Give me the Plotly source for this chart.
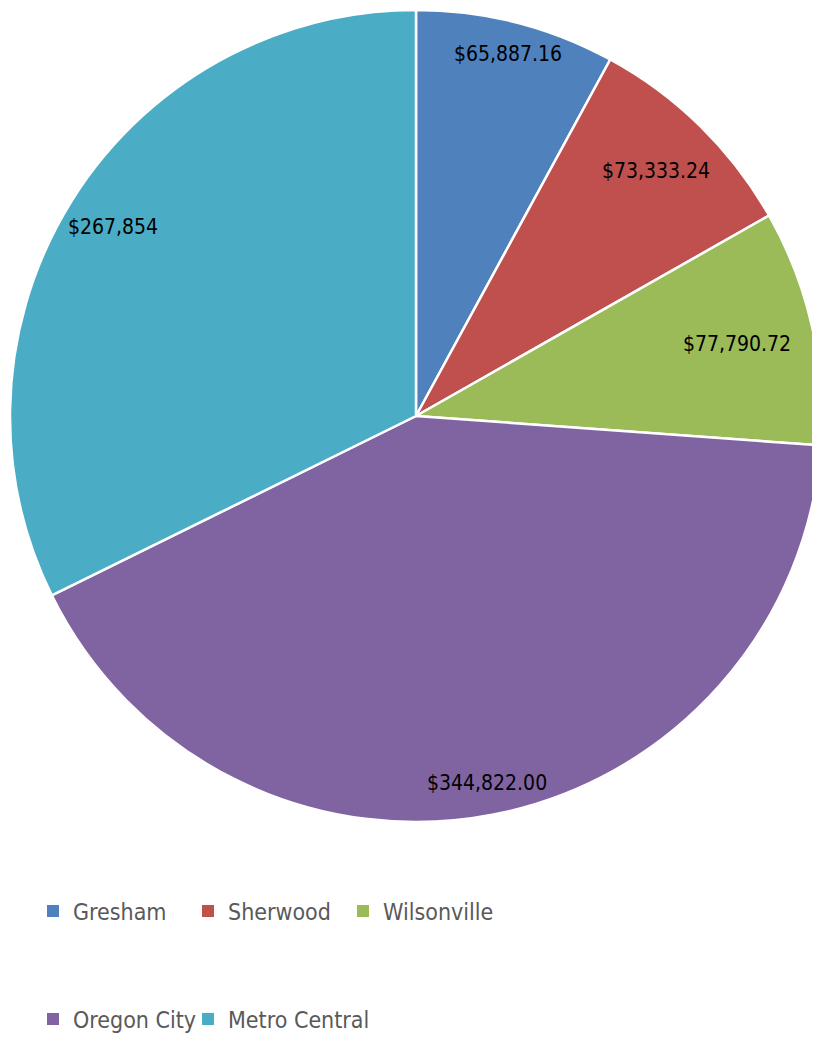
import math
import plotly.graph_objects as go

labels = ["Gresham", "Sherwood", "Wilsonville", "Oregon City", "Metro Central"]
values = [65887.16, 73333.24, 77790.72, 344822.00, 267854]
value_text = ["$65,887.16", "$73,333.24", "$77,790.72", "$344,822.00", "$267,854"]
colors = ["#4F81BD", "#C0504D", "#9BBB59", "#8064A2", "#4BACC6"]

# styling: how far out each value label sits (fraction of radius), and legend grid slot (col, row)
label_radius = [0.92, 0.845, 0.81, 0.92, 0.88]
legend_slots = [(0, 0), (1, 0), (2, 0), (0, 1), (1, 1)]

W, H = 820, 1038
OFF = 8  # browser body margin shifts the figure by 8px
FONT = "Liberation Sans Narrow, Arial Narrow, DejaVu Sans Condensed, Roboto, sans-serif"

dom_x = [(10 - OFF) / W, (822 - OFF) / W]
dom_y = [1 - (822 - OFF) / H, 1 - (10 - OFF) / H]

fig = go.Figure()
fig.add_trace(go.Pie(
    labels=labels, values=values, text=value_text,
    textinfo="none",
    marker=dict(colors=colors, line=dict(color="white", width=2.5)),
    sort=False, direction="clockwise", rotation=0,
    showlegend=False, hoverinfo="label+text",
    domain=dict(x=dom_x, y=dom_y),
))

# value labels placed on each slice's bisector (angles derived from the values)
wpx = (dom_x[1] - dom_x[0]) * W
hpx = (dom_y[1] - dom_y[0]) * H
r = min(wpx, hpx) / 2
cx = (dom_x[0] + dom_x[1]) / 2 * W
cy = (1 - (dom_y[0] + dom_y[1]) / 2) * H
total = sum(values)
cum = 0.0
for v, t, rf in zip(values, value_text, label_radius):
    theta = 2 * math.pi * (cum + v / 2) / total
    cum += v
    px = cx + rf * r * math.sin(theta)
    py = cy - rf * r * math.cos(theta)
    fig.add_annotation(
        x=px / W, y=1 - py / H, xref="paper", yref="paper",
        text=t, showarrow=False, xanchor="center", yanchor="middle",
        font=dict(family=FONT, size=21, color="black"),
    )

col_px = [33 - OFF, 188 - OFF, 343 - OFF]
row_px = [911 - OFF, 1019 - OFF]
legend_layout = {}
for i, (lab, col, (c, rw)) in enumerate(zip(labels, colors, legend_slots)):
    lid = "legend" if i == 0 else f"legend{i + 1}"
    fig.add_trace(go.Scatter(
        x=[None], y=[None], mode="markers", name=lab,
        marker=dict(symbol="square", size=10, color=col),
        legend=lid, showlegend=True, hoverinfo="skip",
    ))
    legend_layout[lid] = dict(
        x=col_px[c] / W, y=1 - row_px[rw] / H,
        orientation="h", xanchor="left", yanchor="middle",
        font=dict(family=FONT, size=23, color="#595959"),
        itemsizing="constant", bgcolor="rgba(0,0,0,0)",
    )

fig.update_layout(
    width=W, height=H,
    margin=dict(l=0, r=0, t=0, b=0, autoexpand=False),
    paper_bgcolor="white", plot_bgcolor="white",
    xaxis=dict(visible=False), yaxis=dict(visible=False),
    **legend_layout,
)

fig.write_html("out.html")
